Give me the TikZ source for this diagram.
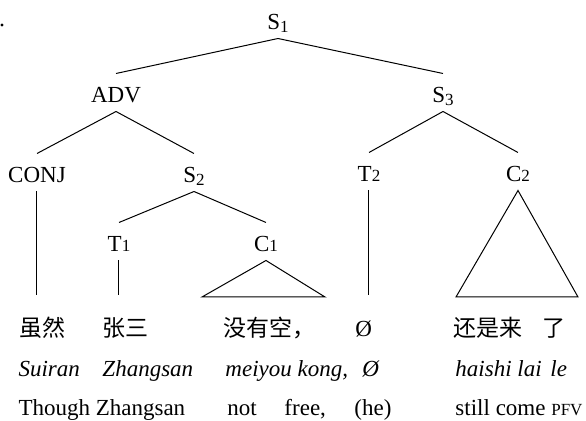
\documentclass[tikz,border=0pt]{standalone}
\usepackage{fontspec}
\setmainfont{Liberation Serif}
\newfontfamily\cjk{Noto Sans CJK SC}
\usetikzlibrary{positioning}
\newcommand{\idx}[1]{{\fontsize{8.5}{10}\selectfont #1}}
\newcommand{\sidx}[1]{\raisebox{-0.25ex}{\fontsize{8.5}{10}\selectfont #1}}

\begin{document}
\begin{tikzpicture}[x=0.5pt, y=-0.5pt, font=\fontsize{11.5}{14}\selectfont, line width=0.5pt]
	\tikzstyle{cat} = [inner xsep=1pt, inner ysep=4pt, text height=10.5pt, text depth=0pt, anchor=base]
	\tikzstyle{word} = [inner sep=0pt, anchor=base west]
	\useasboundingbox (0, 0) rectangle (586, 421);
	
	\fill (2, 25) circle[radius=0.8pt];
	
	% categories
	\node[cat] (S1) at (278, 30) {S\sidx{1}};
	\node[cat] (ADV) at (116, 103) {ADV};
	\node[cat] (S3) at (443, 103) {S\sidx{3}};
	\node[cat] (CONJ) at (37, 183) {CONJ};
	\node[cat] (S2) at (194, 183) {S\sidx{2}};
	\node[cat] (T2) at (369, 182) {T\idx{2}};
	\node[cat] (C2) at (518, 182) {C\idx{2}};
	\node[cat] (T1) at (119, 252) {T\idx{1}};
	\node[cat] (C1) at (266, 252) {C\idx{1}};
	
	\coordinate (leaf) at (0, 295);
	\coordinate (c1l) at (202, 297);
	\coordinate (c1r) at (325, 297);
	\coordinate (c2l) at (456, 297);
	\coordinate (c2r) at (578, 297);
	
	% branches
	\draw (S1.south) -- (ADV.north);
	\draw (S1.south) -- (S3.north);
	\draw (ADV.south) -- (CONJ.north);
	\draw (ADV.south) -- (S2.north);
	\draw (S3.south) -- (T2.north);
	\draw (S3.south) -- (C2.north);
	\draw (S2.south) -- (T1.north);
	\draw (S2.south) -- (C1.north);
	
	\draw (CONJ.south) -- (CONJ.south |- leaf);
	\draw (T1.south) -- (T1.south |- leaf);
	\draw (T2.south) -- (T2.south |- leaf);
	\draw (C1.south) -- (c1l) -- (c1r) -- cycle;
	\draw (C2.south) -- (c2l) -- (c2r) -- cycle;
	
	% hanzi
	\node[word] (hz1) at (19, 337) {\cjk 虽然};
	\node[word] (hz2) at (102, 337) {\cjk 张三};
	\node[word] (hz3) at (223, 337) {\cjk 没有空，};
	\node[word] (hz4) at (355, 337) {Ø};
	\node[word] (hz5) at (453, 337) {\cjk 还是来};
	\node[word] (hz6) at (542, 337) {\cjk 了};
	
	% pinyin
	\node[word] (py1) at (18, 377) {\textit{Suiran}};
	\node[word] (py2) at (102, 377) {\textit{Zhangsan}};
	\node[word] (py3) at (225, 377) {\textit{meiyou kong,}};
	\node[word] (py4) at (362, 377) {\textit{Ø}};
	\node[word] (py5) at (455, 377) {\textit{haishi lai}};
	\node[word] (py6) at (550, 377) {\textit{le}};
	
	% glosses
	\node[word] (gl1) at (18, 416) {Though Zhangsan};
	\node[word] (gl2) at (227, 416) {not};
	\node[word] (gl3) at (284, 416) {free,};
	\node[word] (gl4) at (354, 416) {(he)};
	\node[word] (gl5) at (455, 416) {still come \idx{PFV}};
	
\end{tikzpicture}
\end{document}
